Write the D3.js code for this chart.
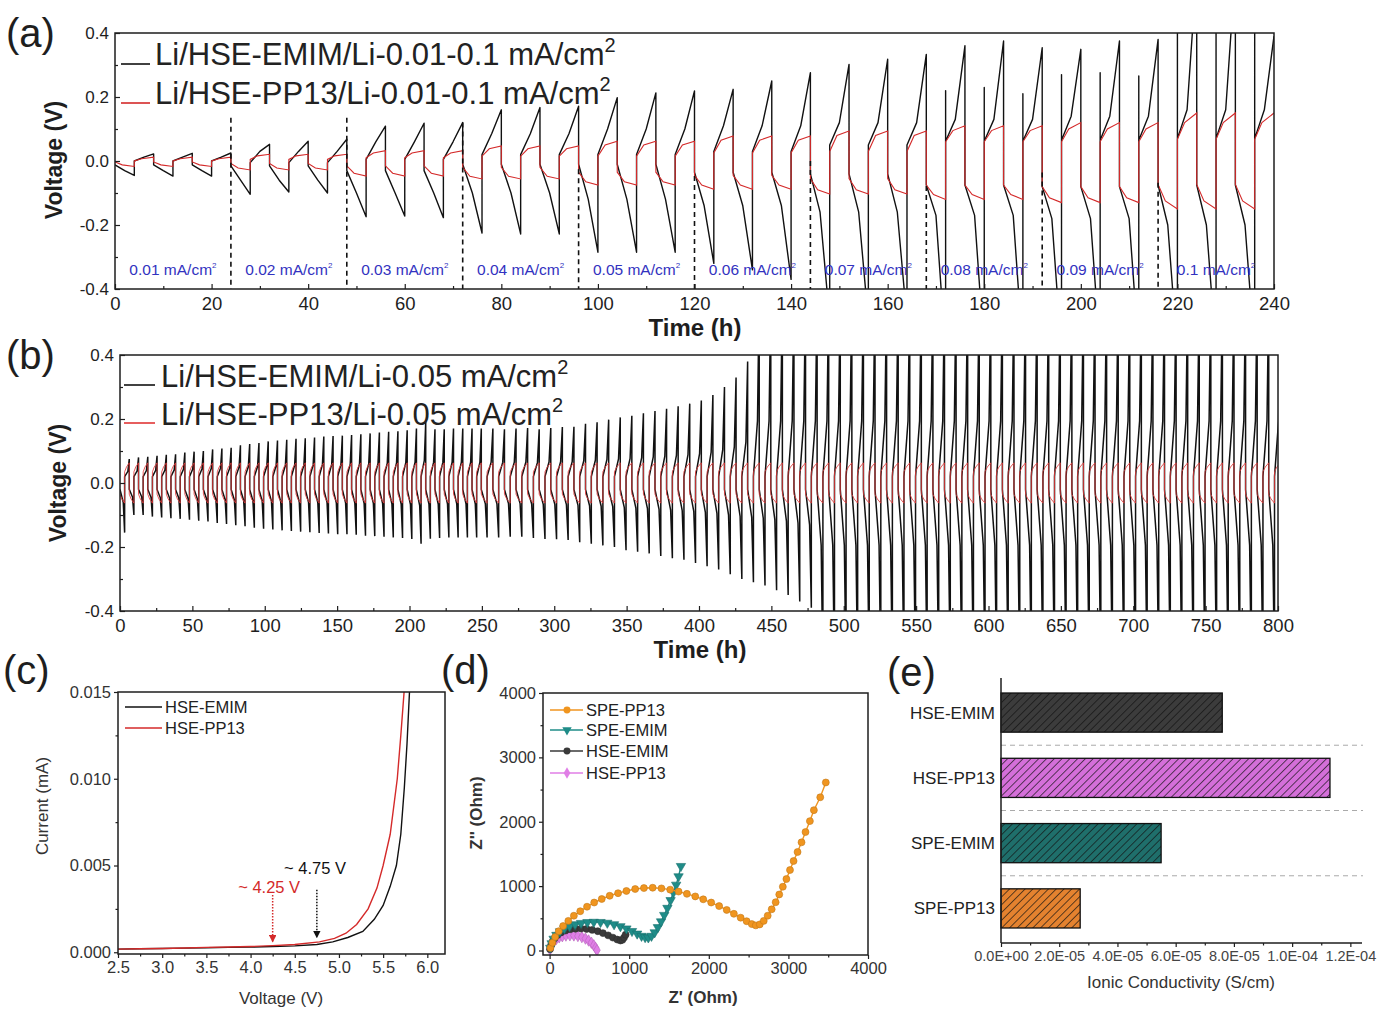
<!DOCTYPE html>
<html><head><meta charset="utf-8"><title>Electrochemical characterisation</title>
<script src="https://cdn.jsdelivr.net/npm/d3@7/dist/d3.min.js"></script>
<style>html,body{margin:0;padding:0;background:#fff;} svg{display:block;}</style>
</head><body>
<svg id="fig" width="1378" height="1011" xmlns="http://www.w3.org/2000/svg"></svg>
<script>
// ================= DATA =================
// ---- (a) rate test: 10 current steps x 3 cycles (neg half then pos half, 4 h each) ----
const aCurrentLabels = ["0.01","0.02","0.03","0.04","0.05","0.06","0.07","0.08","0.09","0.1"];
const aLegend = ["Li/HSE-EMIM/Li-0.01-0.1 mA/cm", "Li/HSE-PP13/Li-0.01-0.1 mA/cm"];
const aEmimPeak   = [0.022,0.024,0.025, 0.052,0.062,0.068, 0.109,0.118,0.12, 0.16,0.167,0.171, 0.198,0.213,0.219,
                     0.224,0.25,0.276, 0.302,0.318,0.333, 0.36,0.375,0.354, 0.349,0.375,0.38, 0.6,0.6,0.39];
const aEmimTrough = [-0.045,-0.047,-0.047, -0.104,-0.097,-0.1, -0.174,-0.172,-0.177, -0.225,-0.228,-0.228, -0.285,-0.285,-0.285,
                     -0.32,-0.34,-0.37, -0.5,-0.5,-0.5, -0.6,-0.6,-0.6, -0.6,-0.6,-0.6, -0.6,-0.6,-0.6];
const aEmimSpike  = [null,null,null, null,null,null, null,null,null, null,null,null, null,null,null,
                     null,null,null, null,null,null, 0.22,0.23,0.21, 0.27,0.276,0.266, 0.6,0.6,0.6];
const aEmimNegStart = [-0.012,-0.015,-0.03,-0.01,-0.01,-0.035,-0.04,-0.075,-0.08,-0.075];
const aEmimNegMid   = [-0.03,-0.06,-0.1,-0.1,-0.12,-0.14,-0.16,-0.17,-0.18,-0.2];
const aEmimPosStart = [0.0,-0.005,0.005,0.02,0.02,0.03,0.05,0.062,0.065,0.07];
const aEmimPosMid   = [0.012,0.03,0.06,0.085,0.1,0.11,0.12,0.13,0.14,0.16];
const aPpNegStart = [-0.003,-0.008,-0.015,-0.02,-0.035,-0.045,-0.055,-0.075,-0.08,-0.073];
const aPpNegMid   = [-0.012,-0.022,-0.038,-0.048,-0.065,-0.075,-0.09,-0.105,-0.115,-0.125];
const aPpNegEnd   = [-0.017,-0.028,-0.047,-0.056,-0.075,-0.088,-0.103,-0.12,-0.13,-0.15];
const aPpPosStart = [0.0,0.005,0.01,0.015,0.015,0.025,0.03,0.06,0.06,0.068];
const aPpPosMid   = [0.007,0.016,0.025,0.038,0.05,0.065,0.08,0.095,0.1,0.12];
const aPpPosEnd   = [0.012,0.021,0.032,0.047,0.062,0.078,0.094,0.11,0.12,0.15];
const aDashTop = [0.135,0.135,0.12,-0.026,-0.047,0.0,-0.078,-0.036,-0.068];
const aXTicks = [0,20,40,60,80,100,120,140,160,180,200,220,240];
const aYTicks = [-0.4,-0.2,0.0,0.2,0.4];

// ---- (b) long-term cycling at 0.05 mA/cm2 ----
const bLegend = ["Li/HSE-EMIM/Li-0.05 mA/cm", "Li/HSE-PP13/Li-0.05 mA/cm"];
const bPeriods = [6.4, 8];          // h per cycle in the two stretches
const bPeriodCounts = [39, 69];     // cycles in each stretch
const bEmimPeak = [
 0.075,0.08,0.082,0.085,0.088,0.09,0.095,0.098,0.1,0.105,0.108,0.11,0.118,0.122,0.125,0.13,0.133,0.135,0.138,0.14,
 0.142,0.145,0.147,0.148,0.15,0.152,0.155,0.158,0.16,0.162,0.165,0.17,0.19,0.168,0.168,0.17,0.17,0.17,0.17,
 0.17,0.168,0.17,0.172,0.168,0.172,0.175,0.176,0.185,0.19,0.198,0.205,0.21,0.218,0.225,0.232,0.24,0.248,0.258,0.275,
 0.3,0.33,0.38,0.6,0.6,0.6,0.6,0.6,0.6,0.6,0.6,0.6,0.6,0.6,0.6,0.6,0.6,0.6,0.6,0.6,0.6,0.6,0.6,0.6,0.6,0.6,
 0.6,0.6,0.6,0.6,0.6,0.6,0.6,0.6,0.6,0.6,0.6,0.6,0.6,0.6,0.6,0.6,0.6,0.6,0.6,0.6,0.6,0.6,0.6];
const bEmimTrough = [
 -0.155,-0.1,-0.1,-0.105,-0.108,-0.11,-0.112,-0.115,-0.118,-0.12,-0.125,-0.128,-0.132,-0.135,-0.14,-0.143,-0.145,-0.148,-0.15,-0.152,
 -0.154,-0.156,-0.158,-0.16,-0.16,-0.162,-0.165,-0.166,-0.168,-0.17,-0.172,-0.175,-0.19,-0.174,-0.172,-0.17,-0.17,-0.17,-0.17,
 -0.17,-0.17,-0.168,-0.168,-0.172,-0.175,-0.176,-0.178,-0.185,-0.19,-0.195,-0.2,-0.21,-0.215,-0.22,-0.228,-0.235,-0.24,-0.25,-0.26,
 -0.27,-0.285,-0.3,-0.31,-0.32,-0.335,-0.35,-0.37,-0.39,-0.6,-0.6,-0.6,-0.6,-0.6,-0.6,-0.6,-0.6,-0.6,-0.6,-0.6,
 -0.6,-0.6,-0.6,-0.6,-0.6,-0.6,-0.6,-0.6,-0.6,-0.6,-0.6,-0.6,-0.6,-0.6,-0.6,-0.6,-0.6,-0.6,-0.6,-0.6,-0.6,-0.6,-0.6,-0.6,-0.6,-0.6,-0.6,-0.6,-0.6];
const bEmimPosStart = 0.02, bEmimNegStart = -0.02;
const bPpPosStart = 0.035, bPpPosMid = 0.05, bPpPosEnd = 0.063;
const bPpNegStart = -0.035, bPpNegMid = -0.05, bPpNegEnd = -0.063;
const bXTicks = [0,50,100,150,200,250,300,350,400,450,500,550,600,650,700,750,800];
const bYTicks = [-0.4,-0.2,0.0,0.2,0.4];

// ---- (c) LSV ----
const cNames = ["HSE-EMIM","HSE-PP13"];
const cEmimV = [2.5,2.75,3.0,3.25,3.5,3.75,4.0,4.25,4.5,4.75,4.93,5.1,5.27,5.4,5.5,5.58,5.65,5.7,5.74,5.77,5.8];
const cEmimI = [0.00018,0.0002,0.00022,0.00024,0.00026,0.00028,0.0003,0.00033,0.00037,0.00045,0.0006,0.00085,0.0012,0.0019,0.0027,0.0038,0.005,0.0068,0.0095,0.012,0.0152];
const cPpV = [2.5,2.75,3.0,3.25,3.5,3.75,4.0,4.25,4.5,4.78,4.95,5.08,5.2,5.33,5.43,5.5,5.58,5.66,5.7,5.74];
const cPpI = [0.00018,0.0002,0.00022,0.00025,0.00028,0.0003,0.00033,0.00038,0.00045,0.0006,0.0008,0.0011,0.0016,0.0025,0.0037,0.005,0.0068,0.01,0.0125,0.0152];
const cOnsetV = [4.25, 4.75];
const cOnsetLabels = ["~ 4.25 V", "~ 4.75 V"];
const cXTicks = [2.5,3.0,3.5,4.0,4.5,5.0,5.5,6.0];
const cYTicks = [0.0,0.005,0.010,0.015];

// ---- (d) Nyquist ----
const dNames = ["SPE-PP13","SPE-EMIM","HSE-EMIM","HSE-PP13"];
const dSpePp13Re = [10,35,70,115,170,235,305,385,470,560,655,755,860,965,1075,1185,1295,1405,1515,1620,1725,1830,1930,2030,2130,2225,2315,2400,2475,2540,2590,2640,2690,2740,2790,2840,2885,2930,2975,3020,3065,3115,3165,3215,3270,3320,3400,3470];
const dSpePp13Im = [40,120,210,300,380,460,540,610,680,745,800,850,890,925,955,970,975,965,945,915,880,840,795,745,690,630,570,510,455,410,390,405,460,540,640,750,870,990,1110,1250,1390,1530,1680,1840,2010,2180,2380,2610];
const dSpeEmimRe = [8,25,50,85,130,185,250,320,395,475,555,640,725,810,890,965,1035,1100,1155,1200,1240,1280,1320,1360,1400,1440,1480,1520,1555,1590,1620,1650];
const dSpeEmimIm = [40,110,180,240,295,340,375,405,425,438,443,440,428,405,375,340,300,260,225,205,200,225,280,360,450,550,660,780,900,1020,1150,1310];
const dHseEmimRe = [5,18,38,65,100,145,200,260,325,395,465,535,605,670,735,795,850,890,915,935,955];
const dHseEmimIm = [20,80,140,195,240,280,310,330,338,340,335,320,300,270,235,200,170,155,165,200,245];
const dHsePp13Re = [5,15,32,55,85,120,160,205,255,305,355,405,450,490,525,555,578,595];
const dHsePp13Im = [15,60,105,145,180,205,222,232,236,234,225,208,185,155,120,80,40,5];
const dTicks = [0,1000,2000,3000,4000];

// ---- (e) ionic conductivity ----
const eCategories = ["HSE-EMIM","HSE-PP13","SPE-EMIM","SPE-PP13"];
const eValues = [7.6e-5, 1.13e-4, 5.5e-5, 2.72e-5];
const eTicks = [0, 2e-5, 4e-5, 6e-5, 8e-5, 1e-4, 1.2e-4];
const eTickLabels = ["0.0E+00","2.0E-05","4.0E-05","6.0E-05","8.0E-05","1.0E-04","1.2E-04"];

// ================= DRAWING =================
const FONT = "'Liberation Sans', Arial, Helvetica, sans-serif";
const svg = d3.select("#fig").attr("font-family", FONT);
svg.append("rect").attr("width",1378).attr("height",1011).attr("fill","#fff");
const defs = svg.append("defs");
const INK = "#1e1e1e";

function clip(id, x0, y0, x1, y1){
  defs.append("clipPath").attr("id", id).append("rect")
    .attr("x", x0).attr("y", y0).attr("width", x1 - x0).attr("height", y1 - y0);
}
function axis(g, scale, orient, pos, values, fmt, size, fs, pad, color){
  const fn = orient === "bottom" ? d3.axisBottom : d3.axisLeft;
  const a = fn(scale).tickValues(values).tickFormat(fmt).tickSizeInner(size).tickSizeOuter(0).tickPadding(pad);
  const ga = g.append("g").attr("transform", orient === "bottom" ? `translate(0,${pos})` : `translate(${pos},0)`).call(a);
  ga.select(".domain").remove();
  ga.selectAll("line").attr("stroke", INK).attr("stroke-width", 1.2);
  ga.selectAll("text").attr("font-size", fs).attr("fill", color || INK).attr("font-family", FONT);
  return ga;
}
function frame(g, x0, y0, x1, y1){
  g.append("rect").attr("x", x0).attr("y", y0).attr("width", x1 - x0).attr("height", y1 - y0)
    .attr("fill", "none").attr("stroke", INK).attr("stroke-width", 1.5);
}
function panelLabel(txt, x, y){
  svg.append("text").attr("x", x).attr("y", y).attr("font-size", 40).attr("fill", INK).text(txt);
}
const fmt1 = d => d.toFixed(1);
const fmt3 = d => d.toFixed(3);

// ---------- (a) ----------
{
  const g = svg.append("g");
  const x = d3.scaleLinear().domain([0, 240]).range([115, 1274]);
  const y = d3.scaleLinear().domain([-0.4, 0.4]).range([289, 33]);
  clip("clipA", 115, 33, 1274, 289);
  const line = d3.line().x(d => x(d[0])).y(d => y(d[1]));
  const black = [], red = [];
  for (let c = 0; c < 30; c++) {
    const s = Math.floor(c / 3), t0 = c * 8;
    black.push([t0, aEmimNegStart[s]], [t0 + 2, aEmimNegMid[s]], [t0 + 4, aEmimTrough[c]]);
    if (aEmimSpike[c] !== null) black.push([t0 + 4, aEmimSpike[c]]);
    black.push([t0 + 4, aEmimPosStart[s]], [t0 + 6, aEmimPosMid[s]], [t0 + 8, aEmimPeak[c]]);
    red.push([t0, aPpNegStart[s]], [t0 + 1.5, aPpNegMid[s]], [t0 + 4, aPpNegEnd[s]],
             [t0 + 4, aPpPosStart[s]], [t0 + 5.5, aPpPosMid[s]], [t0 + 8, aPpPosEnd[s]]);
  }
  const pg = g.append("g").attr("clip-path", "url(#clipA)");
  pg.append("path").attr("d", line(black)).attr("fill", "none").attr("stroke", "#111").attr("stroke-width", 1.4).attr("stroke-linejoin","round");
  pg.append("path").attr("d", line(red)).attr("fill", "none").attr("stroke", "#d42a2a").attr("stroke-width", 1.1);
  aDashTop.forEach((v, i) => {
    const t = 24 * (i + 1);
    g.append("line").attr("x1", x(t)).attr("x2", x(t)).attr("y1", y(v)).attr("y2", y(-0.4))
      .attr("stroke", "#111").attr("stroke-width", 1.6).attr("stroke-dasharray", "5,4");
  });
  aCurrentLabels.forEach((c, i) => {
    const t = g.append("text").attr("x", x(12 + 24 * i)).attr("y", y(-0.34) + 5)
      .attr("text-anchor", "middle").attr("font-size", 15.5).attr("fill", "#3232c0");
    t.append("tspan").text(c + " mA/cm");
    t.append("tspan").attr("dy", -7).attr("font-size", 8).text("2");
  });
  frame(g, 115, 33, 1274, 289);
  axis(g, x, "bottom", 289, aXTicks, d3.format("d"), -5, 18.5, 8);
  axis(g, x, "bottom", 289, d3.range(10, 240, 20), "", -3, 10, 3);
  axis(g, y, "left", 115, aYTicks, fmt1, -5, 17, 6);
  axis(g, y, "left", 115, [-0.3, -0.1, 0.1, 0.3], "", -3, 10, 3);
  g.append("text").attr("x", 695).attr("y", 336).attr("text-anchor", "middle").attr("font-size", 24).attr("font-weight", "bold").attr("fill", INK).text("Time (h)");
  g.append("text").attr("transform", "translate(62,160) rotate(-90)").attr("text-anchor", "middle").attr("font-size", 23).attr("font-weight", "bold").attr("fill", INK).text("Voltage (V)");
  const legC = ["#111", "#d42a2a"], legY = [65, 104];
  aLegend.forEach((l, i) => {
    g.append("line").attr("x1", 121).attr("x2", 150).attr("y1", legY[i] - 1).attr("y2", legY[i] - 1).attr("stroke", legC[i]).attr("stroke-width", 1.6);
    const t = g.append("text").attr("x", 155).attr("y", legY[i]).attr("font-size", 31).attr("fill", "#222");
    t.append("tspan").text(l);
    t.append("tspan").attr("dy", -13).attr("font-size", 20).text("2");
  });
  panelLabel("(a)", 6, 47);
}

// ---------- (b) ----------
{
  const g = svg.append("g");
  const x = d3.scaleLinear().domain([0, 800]).range([120, 1278]);
  const y = d3.scaleLinear().domain([-0.4, 0.4]).range([611, 355]);
  clip("clipB", 120, 355, 1278, 611);
  const line = d3.line().x(d => x(d[0])).y(d => y(d[1]));
  const black = [], red = [];
  let t0 = 0, c = 0;
  bPeriods.forEach((p, k) => {
    for (let j = 0; j < bPeriodCounts[k]; j++, c++) {
      const h = p / 2;
      // half-cycle: slow drift, then the polarisation runs away towards the end of the half
      const nMid = bEmimNegStart + 0.3 * (bEmimTrough[c] - bEmimNegStart);
      const pMid = bEmimPosStart + 0.3 * (bEmimPeak[c] - bEmimPosStart);
      black.push([t0, bEmimNegStart], [t0 + 0.7 * h, nMid], [t0 + h, bEmimTrough[c]],
                 [t0 + h, bEmimPosStart], [t0 + 1.7 * h, pMid], [t0 + p, bEmimPeak[c]]);
      red.push([t0, bPpNegStart], [t0 + 0.4 * h, bPpNegMid], [t0 + h, bPpNegEnd],
               [t0 + h, bPpPosStart], [t0 + 1.4 * h, bPpPosMid], [t0 + p, bPpPosEnd]);
      t0 += p;
    }
  });
  const pg = g.append("g").attr("clip-path", "url(#clipB)");
  pg.append("path").attr("d", line(black)).attr("fill", "none").attr("stroke", "#111").attr("stroke-width", 1.5);
  pg.append("path").attr("d", line(red)).attr("fill", "none").attr("stroke", "#e23c3c").attr("stroke-width", 1.0).attr("stroke-opacity", 0.85);
  frame(g, 120, 355, 1278, 611);
  axis(g, x, "bottom", 611, bXTicks, d3.format("d"), -5, 18.5, 8);
  axis(g, x, "bottom", 611, d3.range(25, 800, 50), "", -3, 10, 3);
  axis(g, y, "left", 120, bYTicks, fmt1, -5, 17, 6);
  axis(g, y, "left", 120, [-0.3, -0.1, 0.1, 0.3], "", -3, 10, 3);
  g.append("text").attr("x", 700).attr("y", 658).attr("text-anchor", "middle").attr("font-size", 24).attr("font-weight", "bold").attr("fill", INK).text("Time (h)");
  g.append("text").attr("transform", "translate(66,483) rotate(-90)").attr("text-anchor", "middle").attr("font-size", 23).attr("font-weight", "bold").attr("fill", INK).text("Voltage (V)");
  const legC = ["#111", "#e03535"], legY = [387, 425];
  bLegend.forEach((l, i) => {
    g.append("line").attr("x1", 124).attr("x2", 155).attr("y1", legY[i] - 2).attr("y2", legY[i] - 2).attr("stroke", legC[i]).attr("stroke-width", 1.6);
    const t = g.append("text").attr("x", 161).attr("y", legY[i]).attr("font-size", 31).attr("fill", "#222");
    t.append("tspan").text(l);
    t.append("tspan").attr("dy", -13).attr("font-size", 20).text("2");
  });
  panelLabel("(b)", 6, 369);
}

// ---------- (c) ----------
{
  const g = svg.append("g");
  const x = d3.scaleLinear().domain([2.5, 6.2]).range([118, 445]);
  const y = d3.scaleLinear().domain([-0.0001, 0.015]).range([954, 692]);
  clip("clipC", 118, 692, 445, 954);
  const line = d3.line().x(d => x(d[0])).y(d => y(d[1]));
  const pg = g.append("g").attr("clip-path", "url(#clipC)");
  pg.append("path").attr("d", line(cEmimV.map((v, i) => [v, cEmimI[i]]))).attr("fill", "none").attr("stroke", "#111").attr("stroke-width", 1.4);
  pg.append("path").attr("d", line(cPpV.map((v, i) => [v, cPpI[i]]))).attr("fill", "none").attr("stroke", "#d42a2a").attr("stroke-width", 1.4);
  frame(g, 118, 692, 445, 954);
  axis(g, x, "bottom", 954, cXTicks, fmt1, 4, 16.5, 3, "#333");
  axis(g, x, "bottom", 954, d3.range(2.75, 6.2, 0.5), "", 2.5, 10, 3);
  axis(g, y, "left", 118, cYTicks, fmt3, 4, 16.5, 3, "#333");
  axis(g, y, "left", 118, [0.0025, 0.0075, 0.0125], "", 2.5, 10, 3);
  const arrowCol = ["#d42a2a", "#111"];
  const arrowTop = [0.0033, 0.0036], arrowTip = [0.0006, 0.00085];
  cOnsetV.forEach((v, i) => {
    defs.append("marker").attr("id", "arr" + i).attr("viewBox", "0 0 10 10").attr("refX", 9).attr("refY", 5)
      .attr("markerWidth", 5).attr("markerHeight", 5).attr("orient", "auto")
      .append("path").attr("d", "M0,0 L10,5 L0,10 z").attr("fill", arrowCol[i]);
    g.append("line").attr("x1", x(v)).attr("x2", x(v)).attr("y1", y(arrowTop[i])).attr("y2", y(arrowTip[i]))
      .attr("stroke", arrowCol[i]).attr("stroke-width", 1.5).attr("stroke-dasharray", "1.5,1.5").attr("marker-end", "url(#arr" + i + ")");
  });
  const labV = [4.21, 4.73], labI = [0.0034, 0.0045];
  cOnsetLabels.forEach((l, i) => {
    g.append("text").attr("x", x(labV[i])).attr("y", y(labI[i])).attr("text-anchor", "middle")
      .attr("font-size", 16.5).attr("fill", arrowCol[i]).text(l);
  });
  const legC = ["#111", "#d42a2a"], legY = [707, 728];
  cNames.forEach((n, i) => {
    g.append("line").attr("x1", 125).attr("x2", 162).attr("y1", legY[i]).attr("y2", legY[i]).attr("stroke", legC[i]).attr("stroke-width", 1.5);
    g.append("text").attr("x", 165).attr("y", legY[i] + 6).attr("font-size", 16.5).attr("fill", "#222").text(n);
  });
  g.append("text").attr("x", 281).attr("y", 1004).attr("text-anchor", "middle").attr("font-size", 17).attr("fill", "#333").text("Voltage (V)");
  g.append("text").attr("transform", "translate(48,806) rotate(-90)").attr("text-anchor", "middle").attr("font-size", 17).attr("fill", "#333").text("Current (mA)");
  panelLabel("(c)", 3, 684);
}

// ---------- (d) ----------
{
  const g = svg.append("g");
  const x = d3.scaleLinear().domain([-83, 4000]).range([543, 868]);
  const y = d3.scaleLinear().domain([-70, 4000]).range([955, 693]);
  clip("clipD", 543, 693, 868, 955);
  const line = d3.line().x(d => x(d[0])).y(d => y(d[1]));
  const series = [
    {re: dSpePp13Re, im: dSpePp13Im, color: "#f0951f", sym: d3.symbolCircle, rot: 0},
    {re: dSpeEmimRe, im: dSpeEmimIm, color: "#1f8c88", sym: d3.symbolTriangle, rot: 180},
    {re: dHseEmimRe, im: dHseEmimIm, color: "#3a3a3a", sym: d3.symbolCircle, rot: 0},
    {re: dHsePp13Re, im: dHsePp13Im, color: "#e07ee6", sym: d3.symbolDiamond, rot: 0}
  ];
  const pg = g.append("g").attr("clip-path", "url(#clipD)");
  series.slice().reverse().forEach(s => {
    const pts = s.re.map((v, i) => [v, s.im[i]]);
    pg.append("path").attr("d", line(pts)).attr("fill", "none").attr("stroke", s.color).attr("stroke-width", 1.4);
    pg.selectAll(null).data(pts).enter().append("path")
      .attr("d", d3.symbol().type(s.sym).size(38))
      .attr("transform", d => `translate(${x(d[0])},${y(d[1])}) rotate(${s.rot})`)
      .attr("fill", s.color).attr("stroke", d3.color(s.color).darker(0.6)).attr("stroke-width", 0.6);
  });
  frame(g, 543, 693, 868, 955);
  axis(g, x, "bottom", 955, dTicks, d3.format("d"), 4, 16.5, 3, "#333");
  axis(g, x, "bottom", 955, [500, 1500, 2500, 3500], "", 2.5, 10, 3);
  axis(g, y, "left", 543, dTicks, d3.format("d"), 4, 16.5, 3, "#333");
  axis(g, y, "left", 543, [500, 1500, 2500, 3500], "", 2.5, 10, 3);
  const legY = [710, 730, 751, 773];
  dNames.forEach((n, i) => {
    const s = series[i];
    g.append("line").attr("x1", 550).attr("x2", 583).attr("y1", legY[i]).attr("y2", legY[i]).attr("stroke", s.color).attr("stroke-width", 1.5);
    g.append("path").attr("d", d3.symbol().type(s.sym).size(38)()).attr("transform", `translate(567,${legY[i]}) rotate(${s.rot})`).attr("fill", s.color);
    g.append("text").attr("x", 586).attr("y", legY[i] + 6).attr("font-size", 16.5).attr("fill", "#222").text(n);
  });
  g.append("text").attr("x", 703).attr("y", 1003).attr("text-anchor", "middle").attr("font-size", 17).attr("font-weight", "bold").attr("fill", "#333").text("Z' (Ohm)");
  g.append("text").attr("transform", "translate(482,813) rotate(-90)").attr("text-anchor", "middle").attr("font-size", 17).attr("font-weight", "bold").attr("fill", "#333").text("Z'' (Ohm)");
  panelLabel("(d)", 441, 684);
}

// ---------- (e) ----------
{
  const g = svg.append("g");
  const x = d3.scaleLinear().domain([0, 1.24e-4]).range([1001, 1362]);
  const y = d3.scaleBand().domain(eCategories).range([678, 943]).paddingInner(0.4).paddingOuter(0.23);
  const fills = ["#3c3c3c", "#d46fd9", "#1f6f6b", "#e4822f"];
  eCategories.forEach((c, i) => {
    const p = defs.append("pattern").attr("id", "hatch" + i).attr("patternUnits", "userSpaceOnUse")
      .attr("width", 5.5).attr("height", 5.5).attr("patternTransform", "rotate(45)");
    p.append("rect").attr("width", 5.5).attr("height", 5.5).attr("fill", fills[i]);
    p.append("line").attr("x1", 0).attr("x2", 0).attr("y1", 0).attr("y2", 5.5).attr("stroke", "#111").attr("stroke-width", 1.3);
  });
  for (let i = 1; i < eCategories.length; i++) {
    const yy = (y(eCategories[i - 1]) + y.bandwidth() + y(eCategories[i])) / 2;
    g.append("line").attr("x1", 1001).attr("x2", 1363).attr("y1", yy).attr("y2", yy)
      .attr("stroke", "#aaa").attr("stroke-width", 1).attr("stroke-dasharray", "5,4");
  }
  g.selectAll(null).data(eCategories).enter().append("rect")
    .attr("x", x(0)).attr("y", d => y(d)).attr("height", y.bandwidth())
    .attr("width", (d, i) => x(eValues[i]) - x(0))
    .attr("fill", (d, i) => `url(#hatch${i})`).attr("stroke", "#111").attr("stroke-width", 1.3);
  g.append("line").attr("x1", 1001).attr("x2", 1001).attr("y1", 678).attr("y2", 943).attr("stroke", INK).attr("stroke-width", 1.5);
  g.append("line").attr("x1", 1001).attr("x2", 1362).attr("y1", 943).attr("y2", 943).attr("stroke", INK).attr("stroke-width", 1.5);
  axis(g, x, "bottom", 943, eTicks, (d, i) => eTickLabels[i], 4, 14.5, 4, "#444");
  axis(g, x, "bottom", 943, [1e-5, 3e-5, 5e-5, 7e-5, 9e-5, 1.1e-4], "", 2.5, 10, 3);
  eCategories.forEach(c => {
    g.append("text").attr("x", 995).attr("y", y(c) + y.bandwidth() / 2 + 6).attr("text-anchor", "end")
      .attr("font-size", 17).attr("fill", "#222").text(c);
  });
  g.append("text").attr("x", 1181).attr("y", 988).attr("text-anchor", "middle").attr("font-size", 17).attr("fill", "#333").text("Ionic Conductivity (S/cm)");
  panelLabel("(e)", 887, 686);
}
</script>
</body></html>
